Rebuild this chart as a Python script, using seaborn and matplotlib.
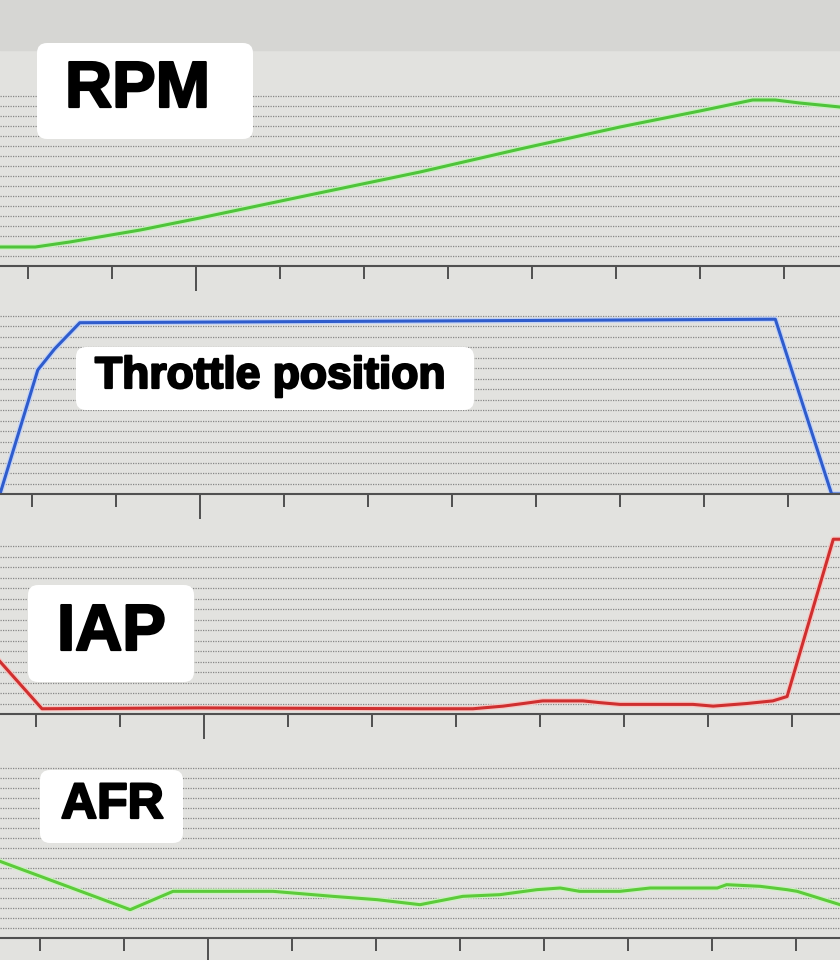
import numpy as np
import matplotlib
matplotlib.use("Agg")
import matplotlib.pyplot as plt
import matplotlib.patheffects as pe
from matplotlib.patches import FancyBboxPatch, Rectangle
from matplotlib.transforms import IdentityTransform
import seaborn as sns

rpm_time = [0, 0.42, 0.83, 1.67, 2.38, 3.57, 5.0, 6.19, 7.38, 8.33, 8.96, 9.23, 9.52, 10.0]
rpm = [2950, 2950, 3200, 3800, 4400, 5450, 6700, 7850, 8950, 9750, 10300, 10300, 10150, 9950]

tps_time = [0, 0.45, 0.65, 0.95, 9.23, 9.9, 10.0]
tps = [0, 71, 83, 98, 100, 0, 0]

iap_time = [0, 0.5, 2.38, 5.0, 5.63, 5.99, 6.23, 6.46, 6.94, 7.14, 7.38, 8.25, 8.49, 8.89, 9.2, 9.37, 9.92, 10.0]
iap = [30, 3, 3.5, 3, 3, 4.5, 6, 7.5, 7.5, 6.5, 5.5, 5.5, 4.5, 6, 7.5, 10, 100, 100]

afr_time = [0, 1.55, 2.06, 3.25, 3.96, 4.49, 5.0, 5.51, 5.95, 6.39, 6.67, 6.9, 7.38, 7.74, 8.54, 8.65, 9.05, 9.37, 9.49, 10.0]
afr = [14.6, 11.7, 12.8, 12.8, 12.5, 12.3, 12.0, 12.5, 12.6, 12.9, 13.0, 12.8, 12.8, 13.0, 13.0, 13.2, 13.1, 12.9, 12.8, 12.0]

labels = ["RPM", "Throttle position", "IAP", "AFR"]

# panel layout: (top px, bottom px), y-limits, gridline step/top, colour, tick offset px
W, H = 840, 960
panels = [
    dict(t=rpm_time, y=rpm, px=(86, 266), ylim=(2000, 11000), grid=(2500, 10600, 500), color="#4fc43a", off=28),
    dict(t=tps_time, y=tps, px=(300, 494), ylim=(0, 111), grid=(6, 103, 6), color="#2f5ccc", off=32),
    dict(t=iap_time, y=iap, px=(520, 714), ylim=(0, 111), grid=(6, 100, 6), color="#cf2f2f", off=36),
    dict(t=afr_time, y=afr, px=(750, 938), ylim=(10, 21.28), grid=(10.6, 20.3, 0.6), color="#5ccb3a", off=40),
]
halo = ["#c9efc0", "#c4d3f5", "#f5c8c4", "#cdf0c2"]

# label boxes: (x0, y0, x1, y1) px, text x, baseline y, font size pt
boxes = [
    ((37, 43, 253, 139), 65, 107, 47),
    ((76, 347, 474, 410), 95, 388, 32),
    ((28, 585, 194, 682), 57, 650, 47),
    ((40, 770, 183, 843), 61, 818, 36),
]

bg = "#e2e2df"
fig = plt.figure(figsize=(W / 100, H / 100), dpi=100, facecolor=bg)
fig.add_artist(Rectangle((0, 1 - 50 / H), 1, 50 / H, transform=fig.transFigure,
                         color="#d6d6d3", zorder=0))

for i, p in enumerate(panels):
    top, bot = p["px"]
    ax = fig.add_axes([0, 1 - bot / H, 1, (bot - top) / H])
    ax.set_facecolor("none")
    sns.lineplot(x=p["t"], y=p["y"], ax=ax, color=p["color"], lw=2.2,
                 path_effects=[pe.Stroke(linewidth=4, foreground=halo[i]), pe.Normal()])
    ax.set_xlim(0, 10)
    ax.set_ylim(*p["ylim"])

    # dotted horizontal grid
    ax.set_yticks(np.arange(*p["grid"]))
    ax.grid(axis="y", color="#878787", lw=0.9, ls=(0, (1, 1)))
    ax.tick_params(axis="y", length=0, labelleft=False)

    # bottom axis with tick marks, one long marker tick
    ticks = (p["off"] + 84 * np.arange(10)) / 84
    ax.set_xticks([ticks[2]])
    ax.set_xticks(np.delete(ticks, 2), minor=True)
    ax.tick_params(axis="x", which="major", length=18, width=1.4, color="#505050", labelbottom=False)
    ax.tick_params(axis="x", which="minor", length=9, width=1.4, color="#505050")
    for s in ["left", "right", "top"]:
        ax.spines[s].set_visible(False)
    ax.spines["bottom"].set_color("#505050")
    ax.spines["bottom"].set_linewidth(1.5)
    ax.set_xlabel("")
    ax.set_ylabel("")

# white rounded label boxes
for (x0, y0, x1, y1), tx, ty, fs in boxes:
    rect = FancyBboxPatch((x0, H - y1), x1 - x0, y1 - y0,
                          boxstyle="round,pad=0,rounding_size=10",
                          transform=IdentityTransform(), fc="white", ec="none", zorder=5)
    fig.add_artist(rect)
for ((x0, y0, x1, y1), tx, ty, fs), lab in zip(boxes, labels):
    fig.text(tx / W, 1 - ty / H, lab, ha="left", va="baseline", fontsize=fs,
             fontweight="bold", family="Liberation Sans", color="black", zorder=6,
             path_effects=[pe.Stroke(linewidth=1.6, foreground="black"), pe.Normal()])

fig.savefig("out.png", dpi=100, facecolor=bg)
